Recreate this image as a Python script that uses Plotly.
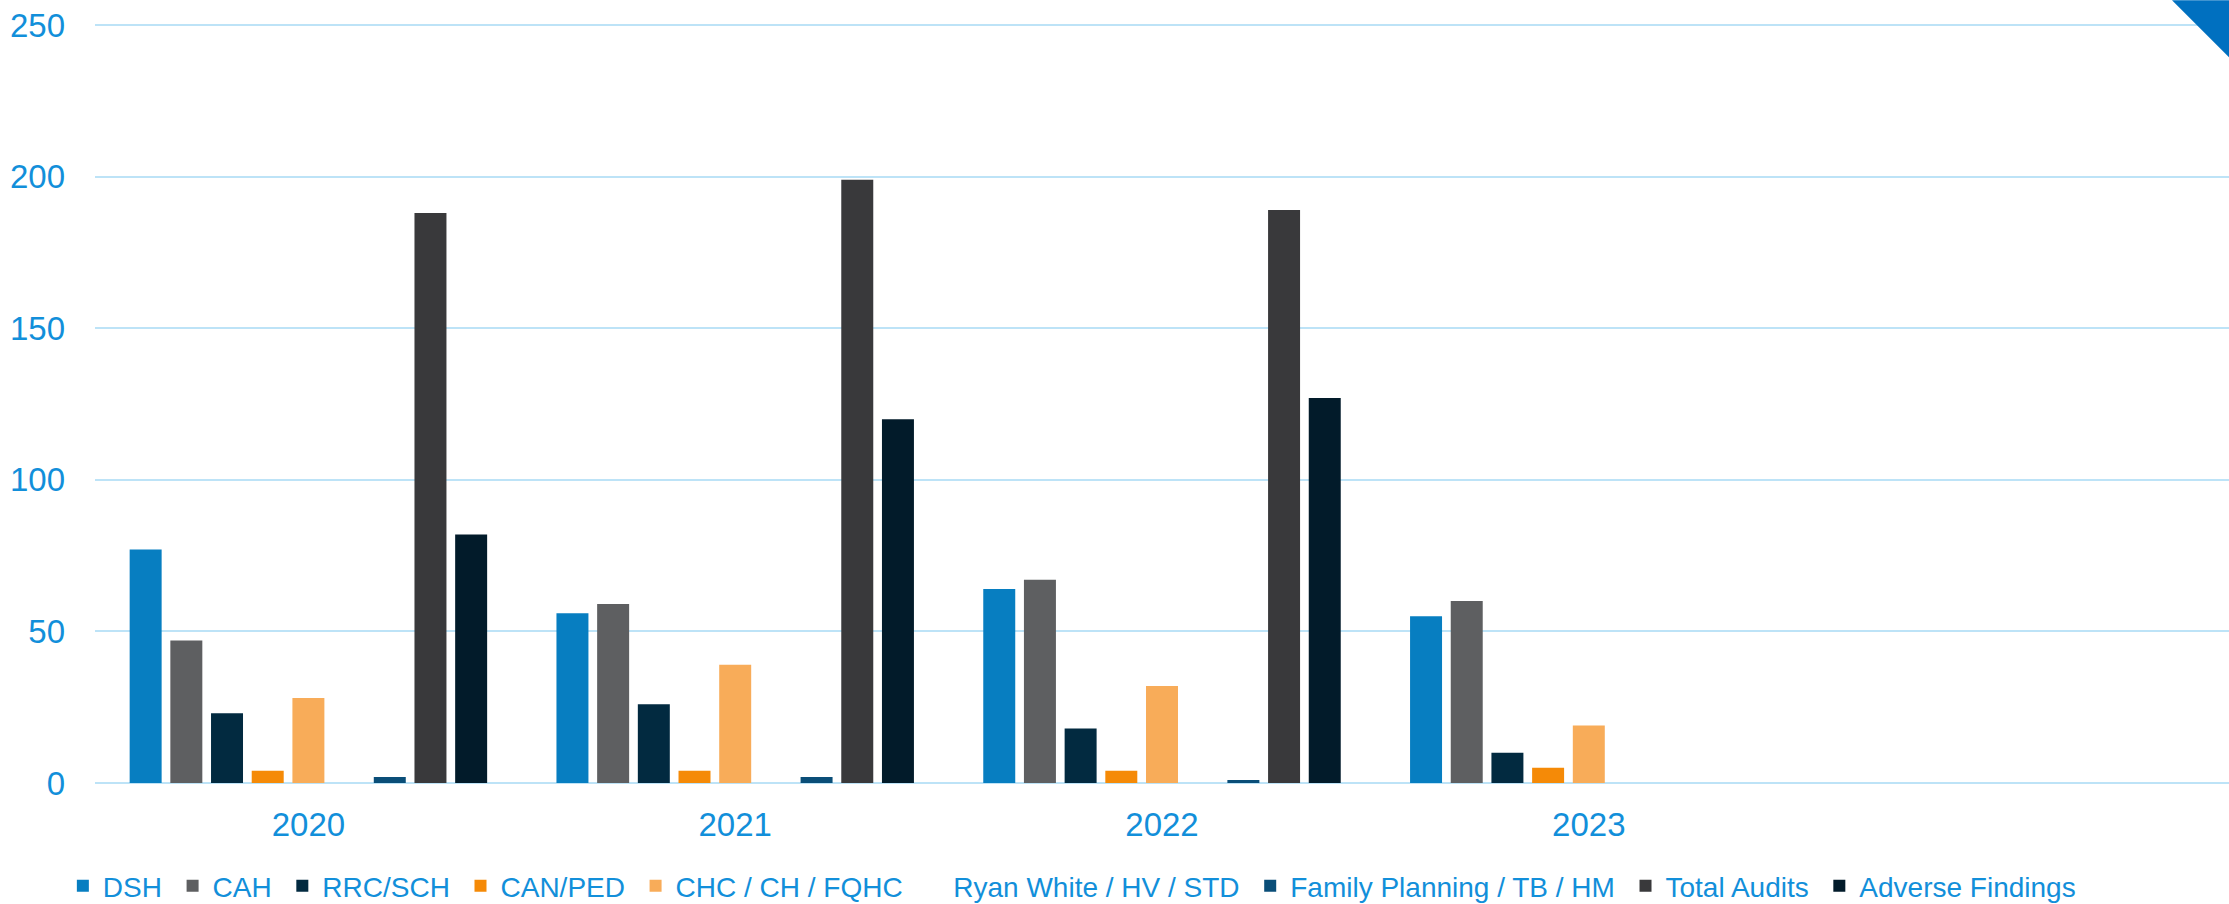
import plotly.graph_objects as go

years = ["2020", "2021", "2022", "2023"]
all_categories = ["2020", "2021", "2022", "2023", " "]

series_names = [
    "DSH", "CAH", "RRC/SCH", "CAN/PED", "CHC / CH / FQHC",
    "Ryan White / HV / STD", "Family Planning / TB / HM",
    "Total Audits", "Adverse Findings",
]

dsh = [77, 56, 64, 55]
cah = [47, 59, 67, 60]
rrc_sch = [23, 26, 18, 10]
can_ped = [4, 4, 4, 5]
chc_ch_fqhc = [28, 39, 32, 19]
ryan_white = [0, 0, 0, 0]
family_planning = [2, 2, 1, 0]
total_audits = [188, 199, 189, None]
adverse_findings = [82, 120, 127, None]

series_values = [dsh, cah, rrc_sch, can_ped, chc_ch_fqhc, ryan_white,
                 family_planning, total_audits, adverse_findings]

colors = ["#077EC1", "#5E5F61", "#022A40", "#F58A07", "#F8AC59",
          "rgba(255,255,255,0)", "#0A4E78", "#39393B", "#021B2A"]

y_tickvals = [0, 50, 100, 150, 200, 250]

TEXT_COLOR = "#128FDA"
GRID_COLOR = "#BDE3F7"
FONT = "Liberation Sans, Arial, sans-serif"

fig = go.Figure()
for name, vals, col in zip(series_names, series_values, colors):
    fig.add_trace(go.Bar(
        name=name + "\u2009",
        x=years,
        y=vals,
        marker=dict(color=col, line=dict(width=0)),
    ))

fig.update_layout(
    width=2229,
    height=904,
    margin=dict(l=95, r=0, t=23, b=121, autoexpand=False),
    paper_bgcolor="white",
    plot_bgcolor="white",
    barmode="group",
    bargap=0.142,
    bargroupgap=0.214,
    font=dict(family=FONT, color=TEXT_COLOR, size=32),
    showlegend=True,
    legend=dict(
        orientation="h",
        xref="container",
        yref="container",
        x=0.0282,
        xanchor="left",
        y=0.0199,
        yanchor="middle",
        font=dict(size=28, color=TEXT_COLOR, family=FONT),
        itemclick=False,
        traceorder="normal",
        bgcolor="rgba(0,0,0,0)",
    ),
    xaxis=dict(
        type="category",
        categoryorder="array",
        categoryarray=all_categories,
        range=[-0.5, 4.5],
        tickvals=years,
        ticktext=years,
        showgrid=False,
        showline=False,
        zeroline=False,
        ticks="",
        ticklabelstandoff=19,
        tickfont=dict(size=33, color=TEXT_COLOR, family=FONT),
    ),
    yaxis=dict(
        range=[0, 250.66],
        tickvals=y_tickvals,
        showgrid=True,
        gridcolor=GRID_COLOR,
        gridwidth=2,
        zeroline=True,
        zerolinecolor=GRID_COLOR,
        zerolinewidth=2,
        showline=False,
        ticks="",
        ticklabelstandoff=29,
        tickfont=dict(size=33, color=TEXT_COLOR, family=FONT),
    ),
)

# decorative corner triangle (top-right)
fig.add_shape(
    type="path",
    xref="paper", yref="paper",
    path="M 0.9733 1.03 L 1.0 1.03 L 1.0 0.955 Z",
    fillcolor="#0070C0",
    line=dict(width=0),
    layer="above",
)

fig.write_html("out.html")
